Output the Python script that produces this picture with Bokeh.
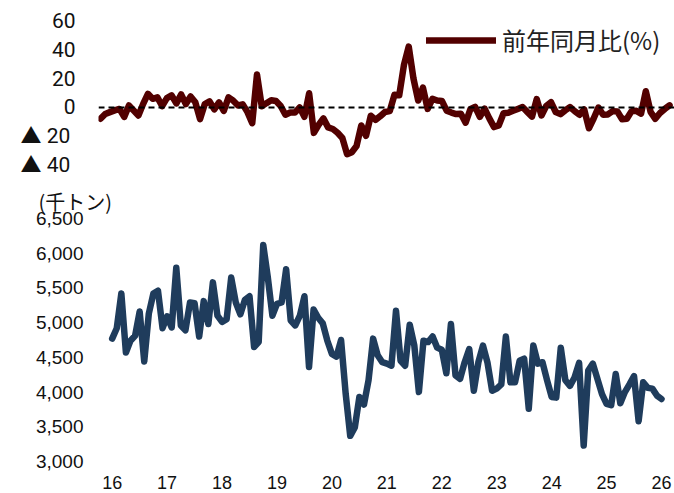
from bokeh.plotting import figure
from bokeh.models import (FixedTicker, NumeralTickFormatter, Span, Legend,
                          LegendItem)
from bokeh.layouts import column
from bokeh.embed import file_html
from bokeh.resources import INLINE

# ---------------- data ----------------
year_labels = ["16", "17", "18", "19", "20", "21", "22", "23", "24", "25", "26"]

# monthly volume (thousand tons), Jan 2016 .. Jan 2026
volume = [
    4770, 4920, 5420, 4570, 4740, 4810, 5160, 4440, 5130, 5420, 5460, 4920,
    5090, 4930, 5790, 4960, 4890, 5290, 5280, 4800, 5310, 4980, 5580, 5100,
    5010, 5050, 5650, 5290, 5120, 5330, 5380, 4650, 4720, 6120, 5650, 5100,
    5270, 5290, 5770, 5030, 4960, 5100, 5380, 4360, 5190, 5070, 4990, 4740,
    4550, 4510, 4750, 3980, 3370, 3490, 3930, 3820, 4170, 4770, 4530, 4430,
    4410, 4380, 5170, 4450, 4380, 4970, 4670, 4000, 4740, 4720, 4800, 4640,
    4610, 4270, 4980, 4240, 4190, 4430, 4620, 4020, 4430, 4670, 4420, 4020,
    4050, 4110, 4800, 4140, 4140, 4450, 4480, 3760, 4670, 4410, 4430, 4170,
    3930, 3920, 4640, 4170, 4090, 4210, 4420, 3230, 4310, 4410, 4190, 3970,
    3830, 3810, 4260, 3840, 4000, 4110, 4230, 3580, 4140, 4060, 4050, 3950,
    3900,
]

# year-on-year change (%), Jan 2016 .. Jan 2026
yoy = [
    -7.8, -4.5, -3.2, -2.0, -1.0, -6.5, 1.4, -2.0, -5.5, 2.5, 9.4, 6.0,
    7.0, 1.0, 6.5, 8.4, 2.8, 9.0, 2.4, 7.6, 3.6, -8.0, 2.4, 4.2,
    -1.3, 3.5, -2.3, 7.0, 4.7, 1.4, 2.2, -3.2, -10.8, 22.8, 0.8, 3.0,
    5.0, 4.5, 1.0, -5.0, -3.5, -3.5, 0.1, -6.5, 9.8, -17.5, -12.0, -7.5,
    -13.7, -14.8, -17.4, -21.0, -32.2, -30.8, -26.6, -12.4, -19.5, -5.7, -8.5, -6.0,
    -3.1, -2.5, 8.8, 8.5, 29.5, 42.0, 20.0, 4.8, 13.7, -1.0, 6.0, 4.8,
    4.5, -2.2, -3.5, -4.5, -4.3, -10.5, -1.2, 0.5, -6.5, -0.8, -7.5, -13.5,
    -12.3, -4.0, -3.6, -2.3, -1.0, 0.3, -3.0, -6.3, 5.8, -5.5, 1.0, 3.7,
    -3.1, -4.6, -2.0, 0.3, -2.5, -5.0, -1.3, -14.3, -7.6, 0.0, -5.0, -4.8,
    -2.5, -2.8, -8.1, -7.8, -2.5, -2.3, -4.2, 11.2, -3.0, -7.8, -3.8, -1.0,
    1.5,
]

yoy_ticks = [-40, -20, 0, 20, 40, 60]
yoy_tick_labels = ["▲  40", "▲  20", "0", "20", "40", "60"]
vol_ticks = [3000, 3500, 4000, 4500, 5000, 5500, 6000, 6500]

months = list(range(len(volume)))
year_ticks = [12 * i for i in range(len(year_labels))]

RED = "#520000"
BLUE = "#1f3c5c"
TXT = "#111111"
NUM_FONT = "Liberation Sans"
JP_FONT = "Noto Sans CJK JP"


def clean(p):
    p.outline_line_color = None
    p.xgrid.grid_line_color = None
    p.ygrid.grid_line_color = None
    p.background_fill_color = "white"
    p.border_fill_color = "white"
    for ax in p.xaxis + p.yaxis:
        ax.axis_line_color = None
        ax.major_tick_line_color = None
        ax.minor_tick_line_color = None
        ax.major_tick_out = 0
        ax.major_tick_in = 0
        ax.major_label_text_font = NUM_FONT
        ax.major_label_text_color = TXT


# ---------------- top panel: YoY ----------------
p1 = figure(width=674, height=183, output_backend="svg", toolbar_location=None,
            x_range=(-0.42, 121.05), y_range=(-46.9, 66.9),
            min_border_left=93, min_border_right=0,
            min_border_top=10, min_border_bottom=8)
clean(p1)
p1.xaxis.visible = False
p1.yaxis.ticker = FixedTicker(ticks=yoy_ticks)
p1.yaxis.major_label_overrides = {t: s for t, s in zip(yoy_ticks, yoy_tick_labels)}
p1.yaxis.major_label_standoff = 23
p1.yaxis.major_label_text_font = "Roboto, Noto Sans CJK JP"
p1.yaxis.major_label_text_font_size = "21px"

r1 = p1.line(months, yoy, line_width=6.5, color=RED,
             line_cap="round", line_join="round")
p1.add_layout(Span(location=0, dimension="width", line_color="black",
                   line_width=2, line_dash="6 4", level="overlay"))

legend = Legend(items=[LegendItem(label="前年同月比(%)", renderers=[r1])],
                location=(328, 118), glyph_width=70, glyph_height=20,
                label_standoff=6, padding=0, margin=0, spacing=0,
                border_line_color=None, background_fill_alpha=0,
                label_text_font=JP_FONT, label_text_font_size="24px",
                label_text_color="#222222")
p1.add_layout(legend)

# ---------------- bottom panel: volume ----------------
p2 = figure(width=674, height=310, output_backend="svg", toolbar_location=None,
            x_range=(-2.99, 122.84), y_range=(2985.6, 6543.2),
            min_border_left=98, min_border_right=0,
            min_border_top=32, min_border_bottom=31)
clean(p2)
p2.title.text = "(千トン)"
p2.title.align = "left"
p2.title.offset = -60
p2.title.standoff = 0
p2.title.vertical_align = "bottom"
p2.title.text_font = JP_FONT
p2.title.text_font_size = "20px"
p2.title.text_font_style = "normal"
p2.title.text_color = TXT

p2.yaxis.ticker = FixedTicker(ticks=vol_ticks)
p2.yaxis.formatter = NumeralTickFormatter(format="0,0")
p2.yaxis.major_label_standoff = 15
p2.yaxis.major_label_text_font_size = "19px"
p2.xaxis.ticker = FixedTicker(ticks=year_ticks)
p2.xaxis.major_label_overrides = {t: s for t, s in zip(year_ticks, year_labels)}
p2.xaxis.major_label_standoff = 13
p2.xaxis.major_label_text_font_size = "18px"

p2.line(months, volume, line_width=6.5, color=BLUE,
        line_cap="round", line_join="round")

layout = column(p1, p2)
open("out.html", "w").write(file_html(layout, INLINE))
